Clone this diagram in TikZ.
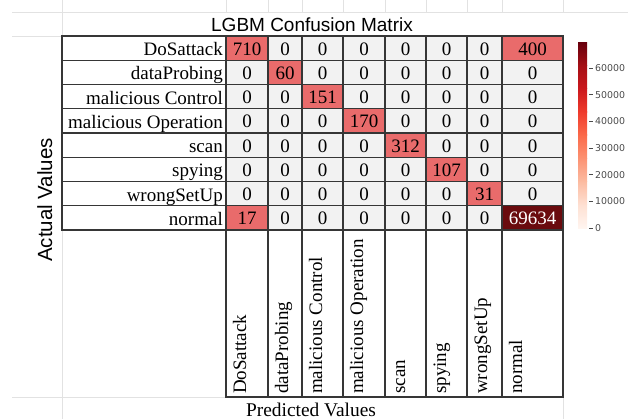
\documentclass[tikz,border=0pt]{standalone}
\usepackage{fontspec}
\setmainfont{Liberation Serif}
\newfontfamily\headfont{Liberation Sans}
\newfontfamily\barfont{DejaVu Sans}
\usepackage{tikz}

\definecolor{zerocell}{HTML}{F2F2F2}
\definecolor{hotcell}{HTML}{E96B6B}
\definecolor{peakcell}{HTML}{6A0B0E}
\definecolor{rule}{HTML}{363636}
\definecolor{sheet}{HTML}{E2E2E2}
\definecolor{barink}{HTML}{4A4A4A}
\definecolor{reds0}{HTML}{FFF5F0}
\definecolor{reds1}{HTML}{FEE0D2}
\definecolor{reds2}{HTML}{FCBBA1}
\definecolor{reds3}{HTML}{FC9272}
\definecolor{reds4}{HTML}{FB6A4A}
\definecolor{reds5}{HTML}{EF3B2C}
\definecolor{reds6}{HTML}{CB181D}
\definecolor{reds7}{HTML}{A50F15}
\definecolor{reds8}{HTML}{67000D}

\begin{document}
\begin{tikzpicture}[x=1pt, y=-1pt,
  sheetline/.style={sheet, line width=0.6pt},
  cellrule/.style={draw=rule, line width=1.1pt},
  rowlabel/.style={anchor=base east, inner sep=0pt, font=\fontsize{19}{19}\selectfont},
  collabel/.style={rotate=90, anchor=base west, inner sep=0pt, font=\fontsize{19}{19}\selectfont},
  count/.style={anchor=base, inner sep=0pt, font=\fontsize{19}{19}\selectfont},
  barlabel/.style={anchor=west, inner sep=0pt, text=barink, font=\barfont\fontsize{9.4}{9.4}\selectfont}]
\useasboundingbox (0,0) rectangle (628,419);

%%% sheet

% faint grid
\draw [sheetline] (12,12) -- (628,12);
\draw [sheetline] (12,36) -- (62,36);
\draw [sheetline] (62,0) -- (62,419);
\draw [sheetline] (12,397) -- (563,397);
\draw [sheetline] (563,397) -- (563,419);
\foreach \x in {226,268,302,343,385,426,467,502,563}
  \draw [sheetline] (\x,0) -- (\x,12);

%%% nodes

% title and axis nodes
\node [anchor=base, inner sep=0pt, font=\headfont\fontsize{19}{19}\selectfont] (title) at (312,31.7) {LGBM Confusion Matrix};
\node [rotate=90, anchor=base, inner sep=0pt, font=\headfont\fontsize{20.5}{20.5}\selectfont] (actual) at (52,200) {Actual Values};
\node [anchor=base, inner sep=0pt, font=\fontsize{19.4}{19.4}\selectfont] (predicted) at (311,416) {Predicted Values};

% row label nodes
\foreach \lab [count=\r] in {DoSattack, dataProbing, malicious Control, malicious Operation, scan, spying, wrongSetUp, normal} {
  \draw [cellrule] (62,{36+24.25*(\r-1)}) rectangle (226,{36+24.25*\r});
  \node [rowlabel] (row-\r) at (223,{36+24.25*(\r-0.5)+7.5}) {\lab};
}

% count nodes
\foreach \vals [count=\r] in {{710,0,0,0,0,0,0,400}, {0,60,0,0,0,0,0,0}, {0,0,151,0,0,0,0,0}, {0,0,0,170,0,0,0,0},
    {0,0,0,0,312,0,0,0}, {0,0,0,0,0,107,0,0}, {0,0,0,0,0,0,31,0}, {17,0,0,0,0,0,0,69634}} {
  \pgfmathsetmacro{\yt}{36+24.25*(\r-1)}
  \pgfmathsetmacro{\yb}{36+24.25*\r}
  \foreach \v [count=\c] in \vals {
    \pgfmathsetmacro{\xl}{{226,268,302,343,385,426,467,502,563}[\c-1]}
    \pgfmathsetmacro{\xr}{{226,268,302,343,385,426,467,502,563}[\c]}
    \ifnum\v=0 \def\cellfill{zerocell}\def\cellink{black}%
    \else\ifnum\v>50000 \def\cellfill{peakcell}\def\cellink{white}%
    \else \def\cellfill{hotcell}\def\cellink{black}\fi\fi
    \filldraw [cellrule, fill=\cellfill] (\xl,\yt) rectangle (\xr,\yb);
    \node [count, text=\cellink] (v-\r-\c) at ({(\xl+\xr)/2},{(\yt+\yb)/2+7}) {\v};
  }
}

% column label nodes
\foreach \xl/\xr/\lab [count=\c] in {226/268/DoSattack, 268/302/dataProbing, 302/343/malicious Control,
    343/385/malicious Operation, 385/426/scan, 426/467/spying, 467/502/wrongSetUp, 502/563/normal} {
  \draw [cellrule] (\xl,230) rectangle (\xr,397);
  \node [collabel] (col-\c) at (\xl+20,394) {\lab};
}

%%% colour bar
\foreach \i in {1,...,8} {
  \pgfmathtruncatemacro{\j}{\i-1}
  \shade [bottom color=reds\j, top color=reds\i] (578,{228.2-23.21*\j}) rectangle (587,{227.8-23.21*\i});
}
\foreach \k/\tv in {0/0, 1/10000, 2/20000, 3/30000, 4/40000, 5/50000, 6/60000} {
  \node [barlabel] (tick-\k) at (595,{228-26.67*\k}) {\tv};
  \draw [barink, line width=0.6pt] (589,{228-26.67*\k}) -- (592.5,{228-26.67*\k});
}
\end{tikzpicture}
\end{document}
